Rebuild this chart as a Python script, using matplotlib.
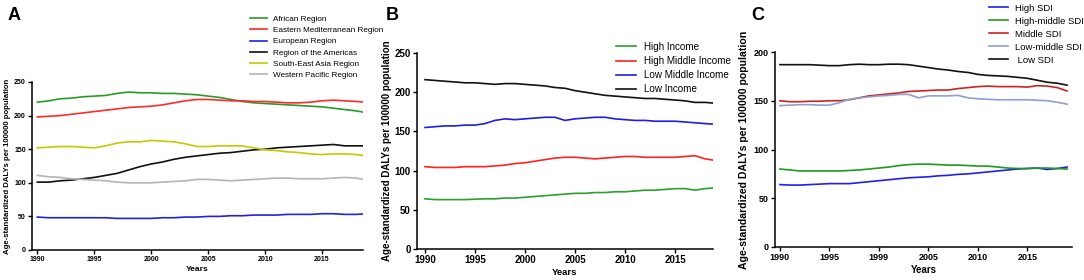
import matplotlib
matplotlib.use("Agg")
import matplotlib.pyplot as plt
import numpy as np

plt.rcParams['font.family'] = ['Liberation Sans', 'DejaVu Sans']

years = list(range(1990, 2020))

# Panel A: WHO regions
regions = ["African Region", "Eastern Mediterranean Region", "European Region",
           "Region of the Americas", "South-East Asia Region", "Western Pacific Region"]
african = [220, 222, 225, 226, 228, 229, 230, 233, 235, 234, 234, 233, 233, 232, 231,
           229, 227, 224, 221, 219, 218, 217, 216, 215, 214, 213, 211, 209, 207, 204]
eastern_med = [198, 199, 200, 202, 204, 206, 208, 210, 212, 213, 214, 216, 219, 222, 224,
               224, 223, 222, 222, 221, 221, 220, 219, 219, 220, 222, 223, 222, 221, 220]
european = [49, 48, 48, 48, 48, 48, 48, 47, 47, 47, 47, 48, 48, 49, 49,
            50, 50, 51, 51, 52, 52, 52, 53, 53, 53, 54, 54, 53, 53, 54]
americas = [101, 101, 103, 104, 106, 108, 111, 114, 119, 124, 128, 131, 135, 138, 140,
            142, 144, 145, 147, 149, 150, 152, 153, 154, 155, 156, 157, 155, 155, 155]
se_asia = [152, 153, 154, 154, 153, 152, 155, 159, 161, 161, 163, 162, 161, 158, 154,
           154, 155, 155, 155, 152, 149, 148, 146, 145, 143, 142, 143, 143, 142, 140]
w_pacific = [111, 109, 108, 106, 105, 104, 103, 101, 100, 100, 100, 101, 102, 103, 105,
             105, 104, 103, 104, 105, 106, 107, 107, 106, 106, 106, 107, 108, 107, 104]

# Panel B: income groups
income_groups = ["High Income", "High Middle Income", "Low Middle Income", "Low Income"]
high_income = [64, 63, 63, 63, 63, 63.5, 64, 64, 65, 65, 66, 67, 68, 69, 70,
               71, 71, 72, 72, 73, 73, 74, 75, 75, 76, 77, 77, 75, 77, 78]
high_mid_income = [105, 104, 104, 104, 105, 105, 105, 106, 107, 109, 110, 112, 114, 116, 117,
                   117, 116, 115, 116, 117, 118, 118, 117, 117, 117, 117, 118, 119, 115, 113]
low_mid_income = [155, 156, 157, 157, 158, 158, 160, 164, 166, 165, 166, 167, 168, 168, 164,
                  166, 167, 168, 168, 166, 165, 164, 164, 163, 163, 163, 162, 161, 160, 159]
low_income = [216, 215, 214, 213, 212, 212, 211, 210, 211, 211, 210, 209, 208, 206, 205,
              202, 200, 198, 196, 195, 194, 193, 192, 192, 191, 190, 189, 187, 187, 186]

# Panel C: SDI groups
sdi_groups = ["High SDI", "High-middle SDI", "Middle SDI", "Low-middle SDI", " Low SDI"]
high_sdi = [64, 63.5, 63.5, 64, 64.5, 65, 65, 65, 66, 67, 68, 69, 70, 71, 71.5,
            72, 73, 73.5, 74.5, 75, 76, 77, 78, 79, 80, 80.5, 81, 79.5, 80.5, 82]
high_mid_sdi = [80, 79, 78, 78, 78, 78, 78, 78.5, 79, 80, 81, 82, 83.5, 84.5, 85,
                85, 84.5, 84, 84, 83.5, 83, 83, 82, 81, 80.5, 80.5, 81, 81, 80.5, 80]
middle_sdi = [150, 149, 149, 149.5, 149.5, 150, 150, 151, 153, 155, 156, 157, 158, 159.5, 160,
              160.5, 161, 161, 162.5, 163.5, 164.5, 165, 164.5, 164.5, 164.5, 164, 165.5, 165, 163.5, 160]
low_mid_sdi = [145, 145.5, 146, 146, 145.5, 145.5, 148, 151.5, 153, 154, 155, 155.5, 156.5, 156.5, 153,
               155, 155, 155, 155.5, 153, 152, 151.5, 151, 151, 151, 151, 150.5, 150, 148.5, 146.5]
low_sdi = [187, 187, 187, 187, 186.5, 186, 186, 187, 187.5, 187, 187, 187.5, 187.5, 187, 185.5,
           184, 182.5, 181.5, 180, 179, 177, 176, 175.5, 175, 174, 173, 171, 169, 168, 166]

xticks = [1990, 1995, 2000, 2005, 2010, 2015]
xticklabels_ab = ["1990", "1995", "2000", "2005", "2010", "2015"]
xticklabels_c = ["1990", "1995", "1999", "2005", "2010", "2015"]

ylabel = "Age-standardized DALYs per 100000 population"

fig = plt.figure(figsize=(10.84, 2.80), dpi=100)
W, H = 1084, 280

def add_ax(l, r, t, b):
    return fig.add_axes([l / W, 1 - b / H, (r - l) / W, (b - t) / H])

def style(ax, tick_fs, lab_fs, ylab_fs, ylabelpad):
    for s in ["top", "right"]:
        ax.spines[s].set_visible(False)
    for s in ["left", "bottom"]:
        ax.spines[s].set_linewidth(1.1)
    ax.tick_params(length=3, width=1.0, labelsize=tick_fs, pad=1.5)
    for lbl in ax.get_xticklabels() + ax.get_yticklabels():
        lbl.set_fontweight("bold")
    ax.set_xlabel("Years", fontsize=lab_fs, fontweight="bold", labelpad=2)
    ax.set_ylabel(ylabel, fontsize=ylab_fs, fontweight="bold", labelpad=ylabelpad)

lw = 1.2

# Panel A
axA = add_ax(32, 363, 82, 250)
colA = ["#2a9a2a", "#ff2a2a", "#2323dd", "#111111", "#c8c800", "#b4b4b4"]
for name, vals, c in zip(regions, [african, eastern_med, european, americas, se_asia, w_pacific], colA):
    axA.plot(years, vals, color=c, lw=lw, label=name)
axA.set_xlim(1989.53, 2018.6)
axA.set_ylim(0, 250)
axA.set_xticks(xticks)
axA.set_xticklabels(xticklabels_ab)
axA.set_yticks(range(0, 251, 50))
style(axA, 5, 6, 5.6, 2)
axA.legend(loc="upper left", bbox_to_anchor=(247 / W, 1 - 12 / H), bbox_transform=fig.transFigure,
           frameon=False, fontsize=5.9, handlelength=2.0, handletextpad=0.8, labelspacing=0.42,
           borderaxespad=0)
fig.text(14 / W, 1 - 15 / H, "A", fontsize=13, fontweight="bold", ha="center", va="center")

# Panel B
axB = add_ax(417, 713, 53, 249)
colB = ["#2e9e2e", "#ff2020", "#1f1fdd", "#111111"]
for name, vals, c in zip(income_groups, [high_income, high_mid_income, low_mid_income, low_income], colB):
    axB.plot(years, vals, color=c, lw=lw, label=name)
axB.set_xlim(1989.2, 2018.8)
axB.set_ylim(0, 250)
axB.set_xticks(xticks)
axB.set_xticklabels(xticklabels_ab)
axB.set_yticks(range(0, 251, 50))
style(axB, 7, 6.8, 7.0, 2)
axB.legend(loc="upper left", bbox_to_anchor=(612 / W, 1 - 38 / H), bbox_transform=fig.transFigure,
           frameon=False, fontsize=7.1, handlelength=2.0, handletextpad=0.8, labelspacing=0.42,
           borderaxespad=0)
fig.text(392 / W, 1 - 15 / H, "B", fontsize=13, fontweight="bold", ha="center", va="center")

# Panel C
axC = add_ax(775, 1072, 52, 247)
colC = ["#1f1fee", "#1f9a1f", "#cc2222", "#8f9fcc", "#111111"]
for name, vals, c in zip(sdi_groups, [high_sdi, high_mid_sdi, middle_sdi, low_mid_sdi, low_sdi], colC):
    axC.plot(years, vals, color=c, lw=lw, label=name)
axC.set_xlim(1989.5, 2019.5)
axC.set_ylim(0, 200)
axC.set_xticks(xticks)
axC.set_xticklabels(xticklabels_c)
axC.set_yticks(range(0, 201, 50))
style(axC, 6.5, 7, 7.6, 3)
axC.legend(loc="upper left", bbox_to_anchor=(985 / W, 1 - 0 / H), bbox_transform=fig.transFigure,
           frameon=False, fontsize=6.8, handlelength=2.0, handletextpad=0.8, labelspacing=0.42,
           borderaxespad=0)
fig.text(758 / W, 1 - 15 / H, "C", fontsize=13, fontweight="bold", ha="center", va="center")

fig.savefig("out.png", dpi=100)
